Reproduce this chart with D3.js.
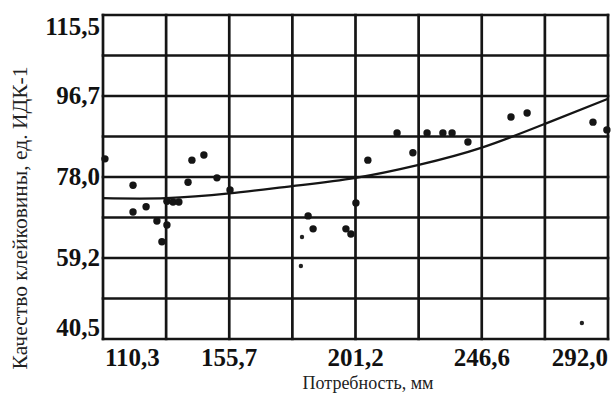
<!DOCTYPE html>
<html>
<head>
<meta charset="utf-8">
<script src="https://cdn.jsdelivr.net/npm/d3@7"></script>
<style>
  html, body { margin: 0; padding: 0; background: #ffffff; }
  svg { display: block; }
  .tick-label { font-family: "Liberation Serif", "Times New Roman", serif; font-weight: bold; fill: #111; }
  .axis-title { font-family: "Liberation Serif", "Times New Roman", serif; fill: #222; }
</style>
</head>
<body>
<svg id="chart" width="612" height="396"></svg>
<script>
// Tick values and their printed labels (decimal comma)
const xTickValues = [110.3, 155.7, 201.2, 246.6, 292.0];
const xTickLabels = ["110,3", "155,7", "201,2", "246,6", "292,0"];
const yTickValues = [115.5, 96.7, 78.0, 59.2, 40.5];
const yTickLabels = ["115,5", "96,7", "78,0", "59,2", "40,5"];

// Observations: need (mm) vs gluten quality (IDK-1 units)
const needMm = [111.0, 121.1, 142.3, 146.6, 140.9, 151.3, 156.0, 121.1, 125.8, 133.3,
                135.5, 137.6, 129.7, 133.3, 131.5, 205.6, 221.8, 201.3, 184.1, 185.9,
                197.7, 199.5, 216.1, 226.9, 232.6, 235.9, 241.6, 257.1, 262.9, 286.6, 291.6];
const quality = [82.2, 76.1, 81.9, 83.1, 76.8, 77.8, 75.0, 69.9, 71.1, 72.4,
                 72.2, 72.2, 67.8, 66.9, 63.0, 81.9, 83.6, 72.0, 69.0, 66.0,
                 66.0, 64.8, 88.2, 88.2, 88.2, 88.2, 86.1, 91.9, 92.8, 90.7, 88.9];

// Faint minor observations
const minorNeedMm = [181.9, 181.5, 282.6];
const minorQuality = [64.1, 57.4, 44.2];

// Trend curve read at the grid columns
const trendNeedMm = [110.3, 133.0, 155.7, 178.4, 201.2, 223.9, 246.6, 269.3, 292.0];
const trendQuality = [73.1, 73.1, 74.2, 75.9, 77.8, 80.8, 84.8, 90.3, 96.1];

const svg = d3.select("#chart");

const x = d3.scaleLinear().domain([110.3, 292.0]).range([103, 608]);
const y = d3.scaleLinear().domain([40.5, 115.5]).range([339, 15]);

// Grid: 8 columns x 8 rows
const xDom = x.domain(), yDom = y.domain();
const xGrid = d3.range(9).map(i => xDom[0] + i * (xDom[1] - xDom[0]) / 8);
const yGrid = d3.range(9).map(i => yDom[0] + i * (yDom[1] - yDom[0]) / 8);

const grid = svg.append("g").attr("stroke", "#151515").attr("stroke-width", 2.7);
grid.selectAll("line.v").data(xGrid).join("line")
  .attr("class", "v")
  .attr("x1", d => x(d)).attr("x2", d => x(d))
  .attr("y1", y(yDom[1]) - 1.3).attr("y2", y(yDom[0]) + 1.3);
grid.selectAll("line.h").data(yGrid).join("line")
  .attr("class", "h")
  .attr("x1", x(xDom[0]) - 1.3).attr("x2", x(xDom[1]) + 1.3)
  .attr("y1", d => y(d)).attr("y2", d => y(d));

// Trend curve
const trend = trendNeedMm.map((v, i) => [v, trendQuality[i]]);
svg.append("path")
  .datum(trend)
  .attr("fill", "none")
  .attr("stroke", "#151515")
  .attr("stroke-width", 2.2)
  .attr("d", d3.line().x(d => x(d[0])).y(d => y(d[1])).curve(d3.curveNatural));

// Points
const pts = needMm.map((v, i) => [v, quality[i]]);
svg.append("g").selectAll("circle").data(pts).join("circle")
  .attr("cx", d => x(d[0])).attr("cy", d => y(d[1]))
  .attr("r", 3.7).attr("fill", "#151515");

const minor = minorNeedMm.map((v, i) => [v, minorQuality[i]]);
svg.append("g").selectAll("circle").data(minor).join("circle")
  .attr("cx", d => x(d[0])).attr("cy", d => y(d[1]))
  .attr("r", 2.2).attr("fill", "#222");

// Y tick labels, right-aligned against the frame; end labels kept inside the frame
svg.append("g").selectAll("text").data(yTickValues).join("text")
  .attr("class", "tick-label")
  .attr("font-size", 25)
  .attr("text-anchor", "end")
  .attr("x", 100)
  .attr("y", (d, i) => {
    if (i === 0) return y(d) + 20;
    if (i === yTickValues.length - 1) return y(d) - 3;
    return y(d) + 8;
  })
  .text((d, i) => yTickLabels[i]);

// X tick labels below the frame
svg.append("g").selectAll("text").data(xTickValues).join("text")
  .attr("class", "tick-label")
  .attr("font-size", 25)
  .attr("text-anchor", (d, i) => i === 0 ? "start" : (i === xTickValues.length - 1 ? "end" : "middle"))
  .attr("x", (d, i) => i === 0 ? x(d) + 2 : x(d))
  .attr("y", 366)
  .text((d, i) => xTickLabels[i]);

// Axis titles
svg.append("text")
  .attr("class", "axis-title")
  .attr("font-size", 18)
  .attr("text-anchor", "middle")
  .attr("x", 368).attr("y", 389)
  .text("Потребность, мм");

svg.append("text")
  .attr("class", "axis-title")
  .attr("font-size", 21.5)
  .attr("text-anchor", "middle")
  .attr("transform", "translate(27,218) rotate(-90)")
  .text("Качество клейковины, ед. ИДК-1");
</script>
</body>
</html>
